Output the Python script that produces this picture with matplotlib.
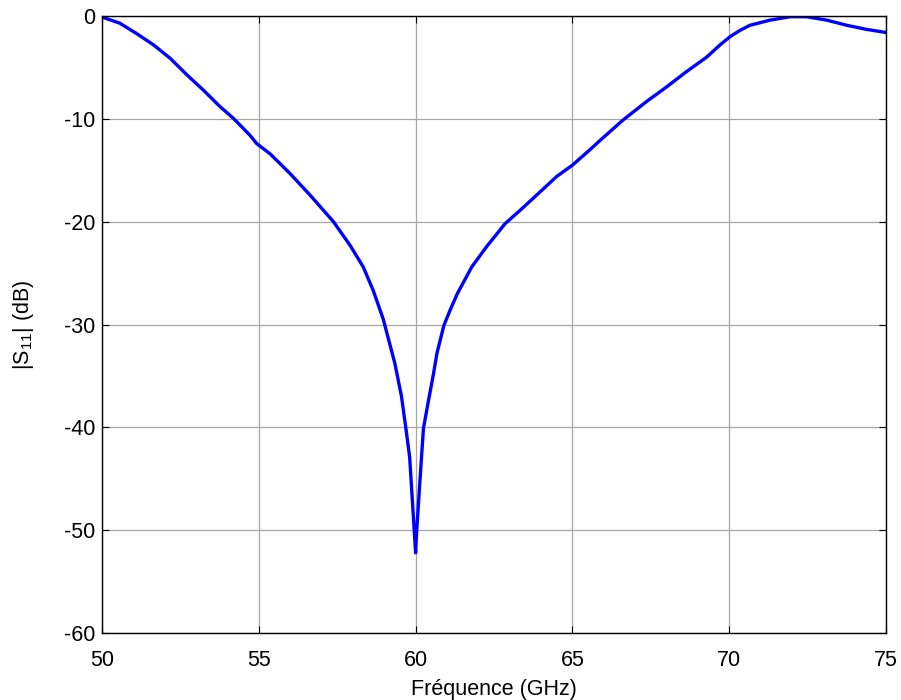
import matplotlib.pyplot as plt
import numpy as np

# |S11|
freq = [50.0, 50.57, 51.1, 51.64, 52.17, 52.7, 53.23, 53.76, 54.19, 54.72, 54.93,
        55.36, 55.99, 56.63, 57.38, 57.91, 58.33, 58.65, 58.97, 59.34, 59.55,
        59.69, 59.81, 59.89, 60.0, 60.03, 60.14, 60.25, 60.41, 60.57, 60.68,
        60.9, 61.1, 61.33, 61.79, 62.27, 62.85, 63.33, 63.97, 64.5, 65.0, 65.56,
        65.88, 66.62, 67.37, 68.0, 68.64, 69.28, 69.71, 70.03, 70.34, 70.66,
        71.3, 71.94, 72.47, 73.11, 73.75, 74.38, 75.0]
s11 = [-0.1, -0.7, -1.7, -2.8, -4.1, -5.7, -7.2, -8.8, -9.95, -11.6, -12.4,
       -13.4, -15.3, -17.4, -20.0, -22.3, -24.4, -26.7, -29.5, -33.8, -37.0,
       -40.1, -42.9, -46.8, -52.2, -50.3, -45.1, -40.1, -37.4, -34.8, -32.8,
       -30.1, -28.6, -27.0, -24.4, -22.4, -20.2, -18.9, -17.1, -15.6, -14.5, -13.0,
       -12.1, -10.1, -8.3, -6.9, -5.4, -4.0, -2.8, -2.0, -1.4, -0.9,
       -0.4, -0.07, -0.07, -0.4, -0.9, -1.3, -1.6]

xticks = [50, 55, 60, 65, 70, 75]
yticks = [-60, -50, -40, -30, -20, -10, 0]

plt.rcParams['font.family'] = ['Liberation Sans', 'DejaVu Sans']
plt.rcParams['axes.unicode_minus'] = False
plt.rcParams['mathtext.fontset'] = 'custom'
plt.rcParams['mathtext.rm'] = 'Liberation Sans'
plt.rcParams['mathtext.it'] = 'Liberation Sans'

fig = plt.figure(figsize=(9.01, 7.0), dpi=100)
ax = fig.add_axes([0.1132, 0.0957, 0.8702, 0.8814])

ax.plot(freq, s11, color=(0, 0, 1), lw=2.4, solid_joinstyle='round', zorder=3)

ax.set_xlim(50, 75)
ax.set_ylim(-60, 0)
ax.set_xticks(xticks)
ax.set_yticks(yticks)
ax.grid(True, color='#a6a6a6', lw=0.9)
ax.tick_params(direction='in', top=True, right=True, length=5, width=0.8,
               labelsize=15.5)
ax.tick_params(axis='x', pad=12)
ax.tick_params(axis='y', pad=5)
for s in ax.spines.values():
    s.set_linewidth(1.0)
    s.set_zorder(4)

ax.set_xlabel('Fréquence (GHz)', fontsize=15.5, labelpad=6)
ax.set_ylabel('|S$_{\\rm 11}$| (dB)', fontsize=15.5, labelpad=20)

fig.savefig('out.png', dpi=100)
